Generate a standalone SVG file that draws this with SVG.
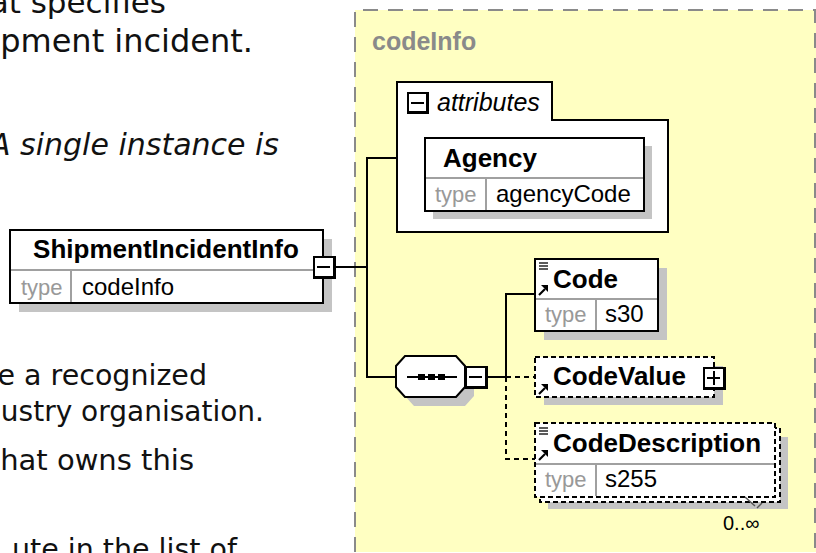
<svg xmlns="http://www.w3.org/2000/svg" width="816" height="553" viewBox="0 0 816 553">
<defs>
<style>
.doc{font-family:"DejaVu Sans","Verdana",sans-serif;fill:#111}
.nm{font-family:"Liberation Sans",Arial,sans-serif;font-weight:bold;font-size:26px;fill:#000}
.tl{font-family:"Liberation Sans",Arial,sans-serif;font-size:22px;fill:#999}
.tv{font-family:"Liberation Sans",Arial,sans-serif;font-size:24px;fill:#000}
.box{fill:#fff;stroke:#000;stroke-width:2}
.dbox{fill:#fff;stroke:#000;stroke-width:2;stroke-dasharray:5 3}
.sh{fill:#c4c4c4}
.div{stroke:#a0a0a0;stroke-width:2}
.con{fill:none;stroke:#000;stroke-width:2}
.dcon{fill:none;stroke:#000;stroke-width:2;stroke-dasharray:5 4}
.ico{stroke:#000;stroke-width:1.3}
</style>
<g id="refArrow">
<line x1="1" y1="11" x2="7" y2="5" stroke="#000" stroke-width="2.2"/>
<polygon points="10,1 10,8 3,1" fill="#000"/>
</g>
<g id="lines3">
<line x1="0" y1="1" x2="9" y2="1" class="ico"/>
<line x1="0" y1="4" x2="9" y2="4" class="ico"/>
<line x1="0" y1="7" x2="9" y2="7" class="ico"/>
</g>
</defs>
<rect width="816" height="553" fill="#fff"/>

<g id="doc-text">
<text class="doc" x="166" y="13" text-anchor="end" font-size="31">at specifies</text>
<text class="doc" x="253" y="52" text-anchor="end" font-size="32">pment incident.</text>
<text class="doc" x="279" y="155" text-anchor="end" font-style="italic" font-size="30">A single instance is</text>
<text class="doc" x="207" y="385" text-anchor="end" font-size="28.5">e a recognized</text>
<text class="doc" x="264" y="421" text-anchor="end" font-size="28">ustry organisation.</text>
<text class="doc" x="194" y="470" text-anchor="end" font-size="29">hat owns this</text>
<text class="doc" x="237" y="559" text-anchor="end" font-size="28.5">ute in the list of</text>
</g>

<g id="codeInfo">
<rect x="355" y="10" width="470" height="542" fill="#ffffc2"/>
<path d="M355,552 V10 H815 V552" fill="none" stroke="#8a8a8a" stroke-width="2" stroke-dasharray="15 10"/>
<text x="372" y="50" font-family="Liberation Sans, Arial, sans-serif" font-weight="bold" font-size="25" fill="#8a8a8a">codeInfo</text>
</g>

<g id="connectors">
<path class="con" d="M336,267 H367"/>
<path class="con" d="M397,158 H367 V377 H397"/>
<path class="con" d="M487,377 H506"/>
<path class="con" d="M535,294 H506 V377"/>
<path class="dcon" d="M506,377 H535"/>
<path class="dcon" d="M506,377 V459 H535"/>
</g>

<g id="ShipmentIncidentInfo">
<rect class="sh" x="19" y="239" width="313" height="73"/>
<rect class="box" x="10" y="230" width="313" height="73"/>
<line class="div" x1="11" y1="270" x2="322" y2="270"/>
<line class="div" x1="71" y1="270" x2="71" y2="302"/>
<text class="nm" x="166" y="258" text-anchor="middle">ShipmentIncidentInfo</text>
<text class="tl" x="21" y="295">type</text>
<text class="tv" x="82" y="295">codeInfo</text>
<rect x="313" y="256" width="23" height="23" fill="#000"/>
<rect x="315" y="258" width="18" height="18" fill="#fff"/>
<line x1="317" y1="267" x2="330" y2="267" stroke="#000" stroke-width="2"/>
</g>

<g id="attributes">
<path class="box" d="M397,82 H552 V120 H668 V232 H397 Z"/>
<rect x="407" y="92" width="22" height="22" fill="#000"/>
<rect x="409" y="94" width="17" height="17" fill="#fff"/>
<line x1="411" y1="103" x2="424" y2="103" stroke="#000" stroke-width="2"/>
<text x="437" y="111" font-family="Liberation Sans, Arial, sans-serif" font-style="italic" font-size="25" fill="#000">attributes</text>
</g>

<g id="Agency">
<rect class="sh" x="433" y="146" width="219" height="73"/>
<rect class="box" x="425" y="138" width="219" height="73"/>
<line class="div" x1="426" y1="178" x2="643" y2="178"/>
<line class="div" x1="486" y1="178" x2="486" y2="210"/>
<text class="nm" x="443" y="167">Agency</text>
<text class="tl" x="435" y="202">type</text>
<text class="tv" x="496" y="202">agencyCode</text>
</g>

<g id="sequence">
<polygon class="sh" points="414,365 465,365 474,375 474,396 465,406 414,406 405,396 405,375"/>
<polygon class="box" points="405,356 456,356 465,366 465,387 456,397 405,397 396,387 396,366"/>
<line x1="407" y1="377" x2="457" y2="377" stroke="#000" stroke-width="2"/>
<rect x="418" y="374" width="7" height="6" fill="#000"/>
<rect x="428" y="374" width="7" height="6" fill="#000"/>
<rect x="438" y="374" width="7" height="6" fill="#000"/>
<rect x="465" y="366" width="23" height="23" fill="#000"/>
<rect x="467" y="368" width="18" height="18" fill="#fff"/>
<line x1="469" y1="377" x2="482" y2="377" stroke="#000" stroke-width="2"/>
</g>

<g id="Code">
<rect class="sh" x="544" y="268" width="123" height="72"/>
<rect class="box" x="535" y="259" width="123" height="72"/>
<line class="div" x1="536" y1="299" x2="657" y2="299"/>
<line class="div" x1="596" y1="299" x2="596" y2="330"/>
<use href="#lines3" x="539" y="262"/>
<use href="#refArrow" x="538" y="284"/>
<text class="nm" x="553" y="288">Code</text>
<text class="tl" x="545" y="322">type</text>
<text class="tv" x="605" y="322">s30</text>
</g>

<g id="CodeValue">
<rect class="sh" x="544" y="366" width="179" height="39"/>
<rect class="dbox" x="535" y="357" width="179" height="40"/>
<use href="#refArrow" x="538" y="383"/>
<text class="nm" x="553" y="385">CodeValue</text>
<rect x="703" y="367" width="23" height="23" fill="#000"/>
<rect x="705" y="369" width="18" height="18" fill="#fff"/>
<line x1="707" y1="378" x2="720" y2="378" stroke="#000" stroke-width="2"/>
<line x1="714" y1="371" x2="714" y2="385" stroke="#000" stroke-width="2"/>
</g>

<g id="CodeDescription">
<rect class="sh" x="548" y="437" width="240" height="72"/>
<rect class="dbox" x="540" y="428" width="240" height="74"/>
<rect class="dbox" x="535" y="423" width="240" height="74"/>
<line class="div" x1="536" y1="464" x2="774" y2="464"/>
<line class="div" x1="596" y1="464" x2="596" y2="496"/>
<use href="#lines3" x="539" y="427"/>
<use href="#refArrow" x="538" y="449"/>
<text class="nm" x="553" y="452">CodeDescription</text>
<text class="tl" x="545" y="487">type</text>
<text class="tv" x="605" y="487">s255</text>
<polyline points="745,497 755,506" fill="none" stroke="#555" stroke-width="1.5"/>
<polyline points="757,508 762,503" fill="none" stroke="#555" stroke-width="1.5"/>
<text x="723" y="530" font-family="Liberation Sans, Arial, sans-serif" font-size="20" fill="#000">0..∞</text>
</g>
</svg>
